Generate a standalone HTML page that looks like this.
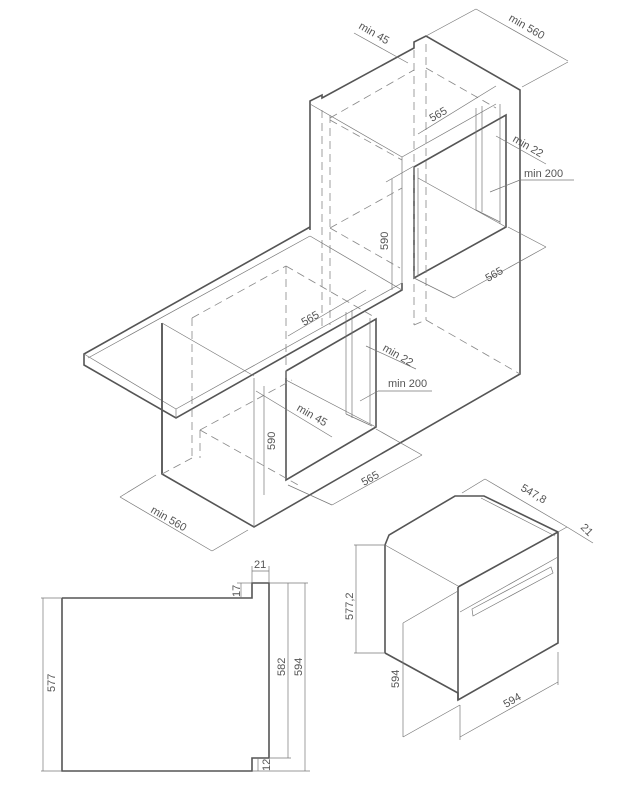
<!DOCTYPE html>
<html><head><style>
html,body{margin:0;padding:0;background:#fff}
svg{display:block}
text{font-family:"Liberation Sans",sans-serif;font-size:11px;fill:#555}
.k{stroke:#555;stroke-width:1.6;fill:none}
.t{stroke:#777;stroke-width:0.7;fill:none}
.d{stroke:#888;stroke-width:0.8;fill:none;stroke-dasharray:8,5}
</style></head><body>
<svg width="624" height="794" viewBox="0 0 624 794">
<!-- Tall cabinet outline -->
<polyline class="k" points="310,230 310,101 322,95 322,98 414,48 414,42 426,36 520,90 520,374 254,527 162,474 162,323"/>
<line class="t" x1="310" y1="104" x2="402" y2="157"/>
<line class="t" x1="402" y1="157" x2="402" y2="290"/>
<line class="t" x1="402" y1="157" x2="496" y2="104"/>
<polyline class="k" points="414,167 506,115 506,227 414,278 414,167"/>
<line class="t" x1="418" y1="168" x2="418" y2="276"/>
<line class="t" x1="418" y1="178" x2="506" y2="227"/>
<line class="t" x1="476" y1="108" x2="476" y2="210"/>
<line class="t" x1="476" y1="210" x2="500" y2="222"/>
<line class="t" x1="482" y1="106" x2="482" y2="212"/>
<line class="t" x1="500" y1="104" x2="500" y2="224"/>
<!-- hidden tall -->
<line class="d" x1="414" y1="50" x2="414" y2="325"/>
<line class="d" x1="426" y1="44" x2="426" y2="320"/>
<line class="d" x1="322" y1="110" x2="322" y2="330"/>
<line class="d" x1="330" y1="115" x2="330" y2="325"/>
<line class="d" x1="426" y1="68" x2="496" y2="108"/>
<line class="d" x1="330" y1="118" x2="414" y2="70"/>
<line class="d" x1="330" y1="120" x2="402" y2="160"/>
<line class="d" x1="330" y1="228" x2="402" y2="188"/>
<line class="d" x1="330" y1="228" x2="400" y2="268"/>
<line class="d" x1="426" y1="320" x2="520" y2="374"/>
<line class="d" x1="414" y1="325" x2="426" y2="320"/>
<!-- Countertop -->
<polyline class="k" points="310,227 84,354 84,365 176,418 402,290 402,283"/>
<line class="t" x1="84" y1="354" x2="176" y2="409"/>
<line class="t" x1="176" y1="409" x2="176" y2="418"/>
<line class="t" x1="176" y1="409" x2="402" y2="283"/>
<line class="t" x1="310" y1="236" x2="402" y2="290"/>
<line class="t" x1="88" y1="358" x2="310" y2="236"/>
<!-- Lower cabinet -->
<line class="k" x1="162" y1="323" x2="162" y2="474"/>
<line class="t" x1="254" y1="378" x2="254" y2="527"/>
<line class="t" x1="162" y1="323" x2="254" y2="376"/>
<polyline class="k" points="286,371 376,319 376,427 286,480 286,371"/>
<line class="t" x1="346" y1="312" x2="346" y2="414"/>
<line class="t" x1="346" y1="414" x2="372" y2="426"/>
<line class="t" x1="352" y1="310" x2="352" y2="418"/>
<line class="t" x1="370" y1="318" x2="370" y2="424"/>
<line class="t" x1="286" y1="380" x2="376" y2="427"/>
<line class="d" x1="192" y1="318" x2="192" y2="460"/>
<line class="d" x1="200" y1="430" x2="200" y2="458"/>
<line class="d" x1="192" y1="318" x2="286" y2="266"/>
<line class="d" x1="286" y1="266" x2="286" y2="378"/>
<line class="d" x1="286" y1="266" x2="376" y2="318"/>
<line class="d" x1="200" y1="430" x2="292" y2="380"/>
<line class="d" x1="200" y1="430" x2="300" y2="486"/>
<line class="d" x1="162" y1="474" x2="192" y2="458"/>
<!-- Dimensions tall -->
<line class="t" x1="426" y1="36" x2="476" y2="9"/>
<line class="t" x1="522" y1="87" x2="568" y2="62"/>
<line class="t" x1="476" y1="9" x2="568" y2="61"/>
<text transform="translate(508,20) rotate(30)">min 560</text>
<line class="t" x1="354" y1="33" x2="408" y2="63"/>
<text transform="translate(358,28) rotate(30)">min 45</text>
<line class="t" x1="418" y1="134" x2="496" y2="86"/>
<text transform="translate(432,122) rotate(-30)">565</text>
<line class="t" x1="496" y1="136" x2="546" y2="164"/>
<text transform="translate(512,141) rotate(30)">min 22</text>
<line class="t" x1="490" y1="192" x2="520" y2="180"/>
<line class="t" x1="520" y1="180" x2="574" y2="180"/>
<text x="524" y="177">min 200</text>
<line class="t" x1="392" y1="179" x2="392" y2="290"/>
<line class="t" x1="386" y1="182" x2="414" y2="166"/>
<text transform="translate(388,250) rotate(-90)">590</text>
<line class="t" x1="454" y1="298" x2="546" y2="247"/>
<line class="t" x1="508" y1="227" x2="546" y2="247"/>
<line class="t" x1="414" y1="278" x2="454" y2="298"/>
<text transform="translate(488,282) rotate(-30)">565</text>
<!-- Dimensions lower -->
<line class="t" x1="288" y1="336" x2="366" y2="290"/>
<text transform="translate(304,326) rotate(-30)">565</text>
<line class="t" x1="366" y1="346" x2="416" y2="369"/>
<text transform="translate(382,350) rotate(30)">min 22</text>
<line class="t" x1="360" y1="401" x2="378" y2="391"/>
<line class="t" x1="378" y1="391" x2="432" y2="391"/>
<text x="388" y="387">min 200</text>
<line class="t" x1="256" y1="391" x2="332" y2="437"/>
<text transform="translate(296,410) rotate(30)">min 45</text>
<line class="t" x1="264" y1="386" x2="264" y2="495"/>
<text transform="translate(275,450) rotate(-90)">590</text>
<line class="t" x1="332" y1="505" x2="422" y2="455"/>
<line class="t" x1="376" y1="429" x2="422" y2="455"/>
<line class="t" x1="288" y1="485" x2="332" y2="505"/>
<text transform="translate(364,486) rotate(-30)">565</text>
<line class="t" x1="120" y1="497" x2="212" y2="551"/>
<line class="t" x1="120" y1="497" x2="156" y2="475"/>
<line class="t" x1="212" y1="551" x2="248" y2="530"/>
<text transform="translate(150,512) rotate(30)">min 560</text>
<!-- Side view -->
<polyline class="k" points="62,598 252,598 252,583 269,583 269,758 252,758 252,771 62,771 62,598"/>
<line class="t" x1="41" y1="598" x2="62" y2="598"/>
<line class="t" x1="41" y1="771" x2="62" y2="771"/>
<line class="t" x1="43" y1="598" x2="43" y2="771"/>
<text transform="translate(55,692) rotate(-90)">577</text>
<line class="t" x1="252" y1="566" x2="252" y2="583"/>
<line class="t" x1="269" y1="566" x2="269" y2="583"/>
<line class="t" x1="252" y1="571" x2="269" y2="571"/>
<text x="254" y="568">21</text>
<line class="t" x1="241" y1="583" x2="241" y2="598"/>
<line class="t" x1="237" y1="583" x2="252" y2="583"/>
<text transform="translate(240,597) rotate(-90)" font-size="10">17</text>
<line class="t" x1="269" y1="583" x2="308" y2="583"/>
<line class="t" x1="269" y1="758" x2="291" y2="758"/>
<line class="t" x1="288" y1="583" x2="288" y2="758"/>
<text transform="translate(285,676) rotate(-90)">582</text>
<line class="t" x1="305" y1="583" x2="305" y2="771"/>
<line class="t" x1="252" y1="771" x2="310" y2="771"/>
<text transform="translate(302,676) rotate(-90)">594</text>
<line class="t" x1="258" y1="758" x2="258" y2="771"/>
<text transform="translate(270,771) rotate(-90)" font-size="9">12</text>
<!-- Oven iso -->
<polyline class="k" points="385,653 385,545 389,535 455,496 484,496 558,532 558,643 458,700 458,693 385,653"/>
<line class="k" x1="458" y1="587" x2="458" y2="700"/>
<line class="k" x1="458" y1="587" x2="558" y2="532"/>
<line class="t" x1="385" y1="545" x2="458" y2="586"/>
<line class="t" x1="481" y1="498" x2="555" y2="536"/>
<line class="t" x1="460" y1="612" x2="558" y2="557"/>
<polygon class="t" points="472,609 551,567 553,573 473,616"/>
<line class="t" x1="354" y1="545" x2="385" y2="545"/>
<line class="t" x1="354" y1="653" x2="385" y2="653"/>
<line class="t" x1="356" y1="545" x2="356" y2="653"/>
<text transform="translate(353,620) rotate(-90)">577,2</text>
<line class="t" x1="403" y1="623" x2="458" y2="591"/>
<line class="t" x1="403" y1="623" x2="403" y2="737"/>
<line class="t" x1="403" y1="737" x2="460" y2="705"/>
<text transform="translate(399,688) rotate(-90)">594</text>
<line class="t" x1="460" y1="705" x2="460" y2="740"/>
<line class="t" x1="558" y1="652" x2="558" y2="685"/>
<line class="t" x1="460" y1="737" x2="558" y2="682"/>
<text transform="translate(506,708) rotate(-30)">594</text>
<line class="t" x1="462" y1="493" x2="485" y2="479"/>
<line class="t" x1="485" y1="479" x2="567" y2="527"/>
<text transform="translate(520,490) rotate(30)">547,8</text>
<line class="t" x1="558" y1="532" x2="567" y2="527"/>
<line class="t" x1="567" y1="527" x2="593" y2="543"/>
<text transform="translate(580,528) rotate(45)">21</text>
</svg>
</body></html>
